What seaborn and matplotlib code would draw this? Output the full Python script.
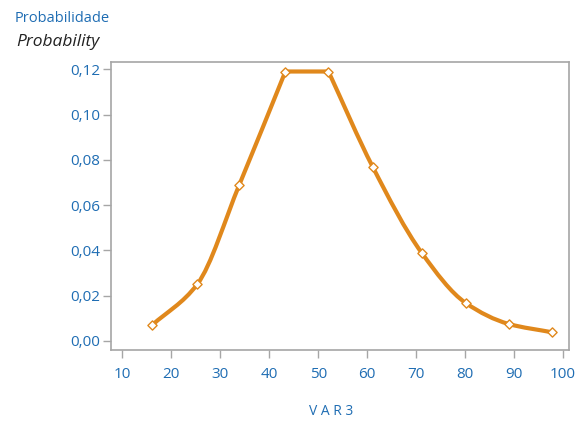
import numpy as np
import pandas as pd
import matplotlib
matplotlib.use("Agg")
import matplotlib.pyplot as plt
from matplotlib.path import Path
from matplotlib.patches import PathPatch
from matplotlib.ticker import FuncFormatter
import seaborn as sns

# data
var3 = [16.1, 25.3, 33.9, 43.3, 52.1, 61.1, 71.1, 80.1, 88.9, 97.8]
prob = [0.0070, 0.0250, 0.0690, 0.1190, 0.1190, 0.0770, 0.0390, 0.0168, 0.0075, 0.0038]
x_ticks = [10, 20, 30, 40, 50, 60, 70, 80, 90, 100]
y_ticks = [0.00, 0.02, 0.04, 0.06, 0.08, 0.10, 0.12]

ORANGE = "#E0881C"
BLUE = "#1F6DB3"
GREY = "#A6A6A6"

sns.set_theme(style="white")
plt.rcParams["font.family"] = ["Open Sans", "DejaVu Sans"]

df = pd.DataFrame({"VAR3": var3, "prob": prob})

fig = plt.figure(figsize=(5.77, 4.22), dpi=100)
ax = fig.add_axes([0.1924, 0.1706, 0.7937, 0.6825])

# gently smoothed line through the points (Hermite segments drawn as Bezier path);
# at the flat top, the left/right tangents are kept separate so the corners stay sharp
x = np.asarray(var3, float)
y = np.asarray(prob, float)
h = np.diff(x)
d = np.diff(y) / h
n = len(x)
mL = np.zeros(n)
mR = np.zeros(n)
mL[0] = mR[0] = d[0]
mL[-1] = mR[-1] = d[-1]
for i in range(1, n - 1):
    if d[i - 1] * d[i] <= 0:
        mL[i] = d[i - 1]
        mR[i] = d[i]
    else:
        w1 = 2 * h[i] + h[i - 1]
        w2 = h[i] + 2 * h[i - 1]
        mm = (w1 + w2) / (w1 / d[i - 1] + w2 / d[i])
        mL[i] = mR[i] = mm
verts = [(x[0], y[0])]
codes = [Path.MOVETO]
for i in range(n - 1):
    verts += [(x[i] + h[i] / 3, y[i] + mR[i] * h[i] / 3),
              (x[i + 1] - h[i] / 3, y[i + 1] - mL[i + 1] * h[i] / 3),
              (x[i + 1], y[i + 1])]
    codes += [Path.CURVE4] * 3
ax.add_patch(PathPatch(Path(verts, codes), facecolor="none", edgecolor=ORANGE,
                       lw=3.0, capstyle="round", joinstyle="round", zorder=2))

sns.scatterplot(data=df, x="VAR3", y="prob", ax=ax, marker="D", s=22,
                facecolor="white", edgecolor=ORANGE, linewidth=1.0, zorder=3)

ax.set_xlim(7.7, 101.2)
ax.set_ylim(-0.004, 0.1232)
ax.set_xticks(x_ticks)
ax.set_yticks(y_ticks)
ax.yaxis.set_major_formatter(FuncFormatter(lambda v, p: f"{v:.2f}".replace(".", ",")))

for s in ax.spines.values():
    s.set_visible(True)
    s.set_color(GREY)
    s.set_linewidth(1.2)

ax.tick_params(axis="both", which="major", direction="out", length=6, width=1.0,
               color=GREY, labelcolor=BLUE, labelsize=11, pad=2,
               bottom=True, left=True)
ax.tick_params(axis="x", pad=6)
ax.set_xlabel("")
ax.set_ylabel("")
ax.grid(False)

fig.text(0.026, 0.957, "Probabilidade", color=BLUE, fontsize=10.5, ha="left", va="center")
fig.text(0.028, 0.900, "Probability", color="#222222", fontsize=12.5, style="italic",
         ha="left", va="center")
fig.text(0.574, 0.024, "V A R 3", color=BLUE, fontsize=10, ha="center", va="center")

fig.savefig("out.png", dpi=100)
